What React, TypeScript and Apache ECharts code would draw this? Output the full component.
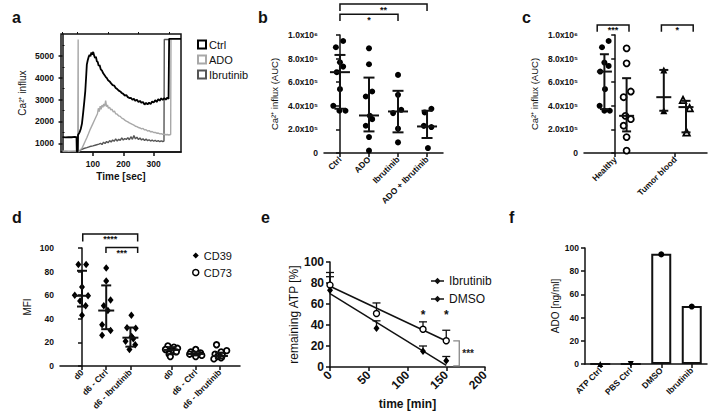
import React, { useEffect, useRef } from 'react';
import * as echarts from 'echarts';

const FONT = '"Liberation Sans", Arial, Helvetica, sans-serif';

// ---------- Panel a: Ca2+ influx kinetics ----------
const aLegend = ['Ctrl', 'ADO', 'Ibrutinib'];
const aXTicks = [100, 200, 300];
const aYTicks = [1000, 2000, 3000, 4000, 5000];
const aCtrl = [[0,1280],[10,1270],[20,1285],[30,1275],[40,1290],[46,1280],[47,620],[50,620],[51,1380],[56,1500],[60,1650],[64,1900],[68,2400],[72,2950],[75,3400],[78,4100],[80,4600],[83,4800],[86,4950],[89,5050],[92,4980],[95,5150],[98,5060],[101,5180],[104,5020],[107,4900],[110,4960],[113,4750],[116,4720],[119,4540],[122,4580],[126,4380],[130,4320],[134,4200],[138,4120],[142,4040],[146,3980],[150,3880],[155,3830],[160,3740],[165,3660],[170,3640],[175,3530],[180,3480],[185,3410],[190,3370],[195,3300],[200,3260],[205,3180],[210,3210],[215,3110],[220,3070],[225,3080],[230,2990],[235,3030],[240,2940],[245,2990],[250,2890],[255,2940],[260,2850],[265,2890],[270,2770],[275,2850],[280,2780],[285,2860],[290,2790],[295,2910],[300,2860],[305,2970],[310,2890],[315,3020],[320,2950],[325,3060],[330,2980],[335,3070],[340,2990],[345,3090],[349,3030],[351,5780],[390,5780]];
const aAdo = [[0,640],[10,650],[20,630],[30,640],[40,650],[50,640],[51,640],[51.5,5750],[52,620],[56,650],[60,720],[65,800],[70,950],[75,1100],[80,1250],[85,1420],[90,1600],[95,1750],[100,1900],[105,2050],[110,2200],[115,2350],[118,2600],[121,2450],[124,2700],[127,2550],[130,2750],[133,2650],[136,2800],[139,2700],[142,2950],[145,2680],[148,2750],[151,2600],[155,2650],[159,2520],[163,2560],[167,2430],[171,2470],[175,2350],[180,2330],[185,2250],[190,2230],[195,2150],[200,2120],[205,2060],[210,2010],[215,1980],[220,1930],[225,1900],[230,1860],[235,1830],[240,1780],[245,1760],[250,1720],[255,1700],[260,1660],[265,1680],[270,1610],[275,1620],[280,1560],[285,1580],[290,1520],[295,1540],[300,1490],[305,1500],[310,1460],[315,1470],[320,1430],[325,1440],[330,1410],[335,1420],[340,1390],[345,1400],[350,1380],[356,1400],[357,5750]];
const aIbr = [[0,610],[20,620],[40,615],[52,610],[55,620],[60,700],[70,760],[80,800],[90,850],[100,880],[110,920],[120,960],[125,1000],[130,940],[135,1050],[140,990],[145,1080],[150,1020],[155,1120],[160,1060],[165,1150],[170,1090],[175,1200],[180,1100],[185,1180],[190,1130],[195,1250],[200,1150],[205,1220],[210,1170],[215,1260],[220,1160],[225,1300],[230,1180],[235,1350],[240,1200],[245,1280],[250,1170],[255,1240],[260,1150],[265,1210],[270,1130],[275,1190],[280,1120],[285,1160],[290,1100],[295,1150],[300,1090],[305,1140],[310,1080],[315,1120],[320,1070],[325,1110],[330,1080],[334,1100],[335,5750],[352,5750]];

// ---------- Panel b: AUC by treatment ----------
const bCats = ['Ctrl', 'ADO', 'Ibrutinib', 'ADO + Ibrutinib'];
const bYLabels = ['0', '2.0x10⁵', '4.0x10⁵', '6.0x10⁵', '8.0x10⁵', '1.0x10⁶'];
const bCtrl = [949000, 896000, 769000, 732000, 685000, 541000, 400000, 358000, 358000];
const bCtrlJit = [0.11, -0.14, 0, 0.11, -0.11, 0, -0.23, -0.02, 0.19];
const bAdo = [887000, 752000, 521000, 479000, 315000, 287000, 231000, 135000, 20000];
const bAdoJit = [0, 0, 0.11, -0.11, 0.03, 0.11, -0.11, 0, 0];
const bIbr = [662000, 493000, 366000, 338000, 206000, 90000];
const bIbrJit = [0, 0, 0.11, -0.17, 0, 0];
const bCombo = [375000, 344000, 230000, 220000, 42000];
const bComboJit = [0.15, -0.08, -0.11, 0.15, 0.03];
const bMedian = [685000, 318000, 352000, 225000];
const bLow = [375000, 183000, 175000, 127000];
const bHigh = [831000, 639000, 527000, 358000];
const bSig = ['*', '**'];
const bSigFrom = [0, 0];
const bSigTo = [2, 3];
const bSigY = [1175000, 1262000];
const bSigDrop = [1118000, 1203000];

// ---------- Panel c: healthy vs tumor blood ----------
const cCats = ['Healthy', 'Tumor blood'];
const cHealthyFilled = [949000, 896000, 766000, 738000, 690000, 541000, 400000, 358000, 358000];
const cHealthyFilledJit = [0.07, -0.04, 0, 0.07, -0.07, 0.01, -0.08, 0, 0.09];
const cHealthyOpen = [887000, 760000, 521000, 473000, 315000, 287000, 231000, 135000, 20000];
const cHealthyOpenJit = [0, 0, 0.07, -0.05, -0.02, 0.07, -0.05, 0, 0];
const cTumorFilled = [704000, 358000];
const cTumorFilledJit = [0, 0];
const cTumorOpen = [450000, 380000, 175000];
const cTumorOpenJit = [-0.05, 0.06, 0.01];
const cMedian = [690000, 315000, 473000, 389000];
const cLow = [372000, 183000, 358000, 175000];
const cHigh = [837000, 634000, 704000, 442000];
const cSig = ['***', '*'];
const cSigFrom = [-0.3, 0.77];
const cSigTo = [0.23, 1.3];
const cSigY = [1085000, 1085000];
const cSigDrop = [1028000, 1028000];

// ---------- Panel d: CD39 / CD73 MFI ----------
const dCats = ['d0', 'd6 - Ctrl', 'd6 - Ibrutinib', 'd0', 'd6 - Ctrl', 'd6 - Ibrutinib'];
const dLegend = ['CD39', 'CD73'];
const dCD39 = [
  [86, 86, 67, 60, 59.5, 55, 51, 43],
  [83, 72, 56, 51, 47, 35, 30, 26],
  [43, 32.5, 32, 25, 23, 21, 18, 14],
];
const dCD39Jit = [
  [-0.15, 0.17, 0, -0.3, 0.25, -0.08, 0.15, 0],
  [0, 0, 0.18, -0.1, 0.07, -0.17, 0.18, -0.17],
  [0.04, -0.14, 0.22, 0.05, 0.12, -0.2, 0.2, -0.04],
];
const dCD73 = [
  [17, 16, 15, 14, 13, 12, 10, 8],
  [14, 12, 11, 10.5, 10, 10, 9, 8],
  [18, 13, 12, 10, 9, 8, 7, 6],
];
const dCD73Jit = [
  [-0.15, 0.1, 0.25, -0.25, 0, 0.2, -0.1, -0.05],
  [0, -0.2, 0.2, -0.1, 0.1, -0.25, 0.25, 0],
  [-0.14, 0.28, 0.05, -0.2, 0.1, -0.1, 0.05, -0.25],
];
const dMedian = [59.5, 47, 24, 13.6, 10.2, 8.5];
const dLow = [50.4, 31.2, 16.4, 10, 9, 6.5];
const dHigh = [80.7, 68.3, 32.6, 16, 12, 11.3];
const dSig = ['****', '***'];
const dSigFrom = [0.03, 0.99];
const dSigTo = [2.3, 2.3];
const dSigY = [111.9, 100.5];
const dSigDrop = [105.6, 95.8];

// ---------- Panel e: remaining ATP ----------
const eLegend = ['Ibrutinib', 'DMSO'];
const eTime = [0, 60, 120, 150];
const eIbr = [78, 51, 36, 25];
const eIbrErr = [90, 61, 43, 35];
const eDmso = [73, 37, 15, 6];
const eDmsoErr = [86, 44, 20, 10];
const eIbrFit = [[0, 76.9], [150, 24.8]];
const eDmsoFit = [[0, 69.9], [150, 1.6]];
const eStarTimes = [120, 150];
const eStarY = [50, 50];
const eSigLabel = '***';
const eSigX = 166.8;
const eSigTop = 24.8;
const eSigBottom = 1;
const eSigStub = 159;

// ---------- Panel f: ADO ----------
const fCats = ['ATP Ctrl', 'PBS Ctrl', 'DMSO', 'Ibrutinib'];
const fBars = [0, 0, 95, 50];
const fDots = [0, 0, 94.5, 49.5];

// ---------- positions (layout) ----------
const bPos = [0, 1, 2, 3];
const cPos = [-0.18, 0.19, 0.81, 1.18];
const cLabelPos = [0, 1];
const dPos = [0, 1, 2, 3.7, 4.7, 5.7];

const txt = (size: number, bold = true) => ({
  fontFamily: FONT,
  fontSize: size,
  fontWeight: bold ? 'bold' : 'normal',
  color: '#111',
});

const axLine = { show: true, lineStyle: { color: '#111', width: 1.5 } };
const axTick = (len = 4) => ({ show: true, length: len, lineStyle: { color: '#111', width: 1.5 } });

const pts = (center: number, vals: number[], jit: number[]) =>
  vals.map((v, i) => [center + jit[i], v]);

const medianRender = (half: number, cap: number) => (params: any, api: any) => {
  const x = api.value(0);
  const pm = api.coord([x, api.value(1)]);
  const pl = api.coord([x, api.value(2)]);
  const ph = api.coord([x, api.value(3)]);
  const st = { stroke: '#111', lineWidth: 2 };
  return {
    type: 'group',
    children: [
      { type: 'line', shape: { x1: pm[0] - half, y1: pm[1], x2: pm[0] + half, y2: pm[1] }, style: st },
      { type: 'line', shape: { x1: pl[0], y1: pl[1], x2: ph[0], y2: ph[1] }, style: st },
      { type: 'line', shape: { x1: pl[0] - cap, y1: pl[1], x2: pl[0] + cap, y2: pl[1] }, style: st },
      { type: 'line', shape: { x1: ph[0] - cap, y1: ph[1], x2: ph[0] + cap, y2: ph[1] }, style: st },
    ],
  };
};

const bracketRender = (labels: string[]) => (params: any, api: any) => {
  const x1 = api.value(0), x2 = api.value(1), y = api.value(2), yd = api.value(3);
  const a = api.coord([x1, y]);
  const b = api.coord([x2, y]);
  const ad = api.coord([x1, yd]);
  const bd = api.coord([x2, yd]);
  return {
    type: 'group',
    children: [
      {
        type: 'polyline',
        shape: { points: [[ad[0], ad[1]], [a[0], a[1]], [b[0], b[1]], [bd[0], bd[1]]] },
        style: { stroke: '#111', lineWidth: 1.5, fill: null },
      },
      {
        type: 'text',
        x: (a[0] + b[0]) / 2,
        y: a[1] + 1,
        style: {
          text: labels[params.dataIndex],
          fontFamily: FONT, fontSize: 9, fontWeight: 'bold', fill: '#111',
          align: 'center', verticalAlign: 'top',
        },
      },
    ],
  };
};

const summary = (pos: number[], med: number[], lo: number[], hi: number[]) =>
  pos.map((p, i) => [p, med[i], lo[i], hi[i]]);

const sig = (from: number[], to: number[], y: number[], drop: number[]) =>
  from.map((f, i) => [f, to[i], y[i], drop[i]]);

function buildOption(): any {
  const grids = [
    { left: 61, top: 34, width: 120, height: 118, show: true, borderColor: '#111', borderWidth: 1.5 },
    { left: 324, top: 35, width: 119, height: 118 },
    { left: 584, top: 35, width: 123, height: 118 },
    { left: 60, top: 248, width: 180, height: 118 },
    { left: 330, top: 262, width: 155, height: 105 },
    { left: 585, top: 248, width: 122, height: 116 },
  ].map((g) => ({ containLabel: false, outerBoundsMode: 'none', backgroundColor: 'transparent', ...g }));

  const hiddenLine = { show: false };
  const noSplit = { show: false };

  const xAxis: any[] = [
    {
      type: 'value', gridIndex: 0, min: -5, max: 390,
      axisLine: axLine, splitLine: noSplit,
      axisTick: { ...axTick(4), customValues: aXTicks },
      axisLabel: { ...txt(8.5), margin: 7, customValues: aXTicks, formatter: (v: number) => String(v) },
      name: 'Time [sec]', nameLocation: 'middle', nameGap: 19, nameTextStyle: txt(10),
    },
    {
      type: 'value', gridIndex: 0, min: -5, max: 390,
      axisLine: hiddenLine, splitLine: noSplit, axisLabel: { show: false },
      axisTick: { show: true, length: 2, lineStyle: { color: '#111', width: 1 }, customValues: [0, 50, 150, 250, 350] },
    },
    {
      type: 'value', gridIndex: 1, min: -0.55, max: 3.55,
      axisLine: axLine, splitLine: noSplit,
      axisTick: { ...axTick(4), customValues: bPos },
      axisLabel: {
        ...txt(8.5), rotate: 45, margin: 5, customValues: bPos,
        formatter: (v: number) => bCats[bPos.indexOf(v)] ?? '',
      },
    },
    {
      type: 'value', gridIndex: 2, min: -0.52, max: 1.53,
      axisLine: axLine, splitLine: noSplit,
      axisTick: { ...axTick(4), customValues: cLabelPos },
      axisLabel: {
        ...txt(8.5), rotate: 45, margin: 5, customValues: cLabelPos,
        formatter: (v: number) => cCats[cLabelPos.indexOf(v)] ?? '',
      },
    },
    {
      type: 'value', gridIndex: 3, min: -0.91, max: 6.53,
      axisLine: axLine, splitLine: noSplit,
      axisTick: { ...axTick(4), customValues: dPos },
      axisLabel: {
        ...txt(8.5), rotate: 45, margin: 5, customValues: dPos,
        formatter: (v: number) => dCats[dPos.indexOf(v)] ?? '',
      },
    },
    {
      type: 'value', gridIndex: 4, min: 0, max: 200, interval: 50,
      axisLine: axLine, splitLine: noSplit, axisTick: axTick(4),
      axisLabel: { ...txt(12), rotate: 45, margin: 6 },
      name: 'time [min]', nameLocation: 'middle', nameGap: 31, nameTextStyle: txt(12),
    },
    {
      type: 'category', gridIndex: 5, data: fCats,
      axisLine: axLine, splitLine: noSplit,
      axisTick: { ...axTick(4), alignWithLabel: true },
      axisLabel: { ...txt(8.5), rotate: 45, margin: 5, interval: 0 },
    },
  ];

  const yAxis: any[] = [
    {
      type: 'value', gridIndex: 0, min: 600, max: 6000,
      axisLine: axLine, splitLine: noSplit,
      axisTick: { ...axTick(4), customValues: aYTicks },
      axisLabel: { ...txt(8.5), margin: 7, customValues: aYTicks, formatter: (v: number) => String(v) },
      name: 'Ca²⁺ influx', nameLocation: 'middle', nameRotate: 90, nameGap: 34, nameTextStyle: txt(10, false),
    },
    {
      type: 'value', gridIndex: 0, min: 600, max: 6000,
      axisLine: hiddenLine, splitLine: noSplit, axisLabel: { show: false },
      axisTick: { show: true, length: 2, lineStyle: { color: '#111', width: 1 }, customValues: [1500, 2500, 3500, 4500, 5500] },
    },
    {
      type: 'value', gridIndex: 1, min: 0, max: 1000000, interval: 200000,
      axisLine: axLine, splitLine: noSplit, axisTick: axTick(4),
      axisLabel: { ...txt(8.5), margin: 6, formatter: (v: number) => bYLabels[Math.round(v / 200000)] },
      name: 'Ca²⁺ influx (AUC)', nameLocation: 'middle', nameRotate: 90, nameGap: 45, nameTextStyle: txt(9.5, false),
    },
    {
      type: 'value', gridIndex: 2, min: 0, max: 1000000, interval: 200000,
      axisLine: axLine, splitLine: noSplit, axisTick: axTick(4),
      axisLabel: { ...txt(8.5), margin: 6, formatter: (v: number) => bYLabels[Math.round(v / 200000)] },
      name: 'Ca²⁺ influx (AUC)', nameLocation: 'middle', nameRotate: 90, nameGap: 45, nameTextStyle: txt(9.5, false),
    },
    {
      type: 'value', gridIndex: 3, min: 0, max: 100, interval: 20,
      axisLine: axLine, splitLine: noSplit, axisTick: axTick(4),
      axisLabel: { ...txt(8.5), margin: 6 },
      name: 'MFI', nameLocation: 'middle', nameRotate: 90, nameGap: 28, nameTextStyle: txt(10, false),
    },
    {
      type: 'value', gridIndex: 4, min: 0, max: 100, interval: 20,
      axisLine: axLine, splitLine: noSplit, axisTick: axTick(4),
      axisLabel: { ...txt(12), margin: 6 },
      name: 'remaining ATP [%]', nameLocation: 'middle', nameRotate: 90, nameGap: 28, nameTextStyle: txt(12, false),
    },
    {
      type: 'value', gridIndex: 5, min: 0, max: 100, interval: 20,
      axisLine: axLine, splitLine: noSplit, axisTick: axTick(4),
      axisLabel: { ...txt(8.5), margin: 6 },
      name: 'ADO [ng/ml]', nameLocation: 'middle', nameRotate: 90, nameGap: 20, nameTextStyle: txt(10, false),
    },
  ];

  const filled = (size: number) => ({ symbol: 'circle', symbolSize: size, itemStyle: { color: '#000', opacity: 1 } });
  const open = (size: number, symbol = 'circle') => ({
    symbol, symbolSize: size, itemStyle: { color: '#fff', borderColor: '#000', borderWidth: 1.8, opacity: 1 },
  });

  const series: any[] = [
    // ---- a ----
    { type: 'line', name: 'Ibrutinib', xAxisIndex: 0, yAxisIndex: 0, data: aIbr, symbol: 'none',
      lineStyle: { color: '#555', width: 1.4 }, itemStyle: { color: '#555' } },
    { type: 'line', name: 'ADO', xAxisIndex: 0, yAxisIndex: 0, data: aAdo, symbol: 'none',
      lineStyle: { color: '#a8a8a8', width: 1.4 }, itemStyle: { color: '#a8a8a8' } },
    { type: 'line', name: 'Ctrl', xAxisIndex: 0, yAxisIndex: 0, data: aCtrl, symbol: 'none',
      lineStyle: { color: '#000', width: 1.8 }, itemStyle: { color: '#000' } },

    // ---- b ----
    { type: 'scatter', xAxisIndex: 2, yAxisIndex: 2, data: pts(bPos[0], bCtrl, bCtrlJit), ...filled(6), z: 2 },
    { type: 'scatter', xAxisIndex: 2, yAxisIndex: 2, data: pts(bPos[1], bAdo, bAdoJit), ...filled(6), z: 2 },
    { type: 'scatter', xAxisIndex: 2, yAxisIndex: 2, data: pts(bPos[2], bIbr, bIbrJit), ...filled(6), z: 2 },
    { type: 'scatter', xAxisIndex: 2, yAxisIndex: 2, data: pts(bPos[3], bCombo, bComboJit), ...filled(6), z: 2 },
    { type: 'custom', xAxisIndex: 2, yAxisIndex: 2, renderItem: medianRender(10, 5.5), clip: false, z: 3,
      encode: { x: 0, y: [1, 2, 3] }, data: summary(bPos, bMedian, bLow, bHigh) },
    { type: 'custom', xAxisIndex: 2, yAxisIndex: 2, renderItem: bracketRender(bSig), clip: false, z: 3,
      encode: { x: [0, 1], y: [2, 3] }, data: sig(bSigFrom, bSigTo, bSigY, bSigDrop) },

    // ---- c ----
    { type: 'scatter', xAxisIndex: 3, yAxisIndex: 3, data: pts(cPos[0], cHealthyFilled, cHealthyFilledJit), ...filled(6), z: 2 },
    { type: 'scatter', xAxisIndex: 3, yAxisIndex: 3, data: pts(cPos[1], cHealthyOpen, cHealthyOpenJit), ...open(6), z: 2 },
    { type: 'scatter', xAxisIndex: 3, yAxisIndex: 3, data: pts(cPos[2], cTumorFilled, cTumorFilledJit),
      symbol: 'triangle', symbolSize: 7, itemStyle: { color: '#000', opacity: 1 }, z: 2 },
    { type: 'scatter', xAxisIndex: 3, yAxisIndex: 3, data: pts(cPos[3], cTumorOpen, cTumorOpenJit), ...open(6.5, 'triangle'), z: 2 },
    { type: 'custom', xAxisIndex: 3, yAxisIndex: 3, renderItem: medianRender(7.5, 4.5), clip: false, z: 3,
      encode: { x: 0, y: [1, 2, 3] }, data: summary(cPos, cMedian, cLow, cHigh) },
    { type: 'custom', xAxisIndex: 3, yAxisIndex: 3, renderItem: bracketRender(cSig), clip: false, z: 3,
      encode: { x: [0, 1], y: [2, 3] }, data: sig(cSigFrom, cSigTo, cSigY, cSigDrop) },

    // ---- d ----
    ...dCD39.map((vals, g) => ({
      type: 'scatter', name: 'CD39', xAxisIndex: 4, yAxisIndex: 4, data: pts(dPos[g], vals, dCD39Jit[g]),
      symbol: 'diamond', symbolSize: [6, 7.5], itemStyle: { color: '#000', opacity: 1 }, z: 2,
    })),
    ...dCD73.map((vals, g) => ({
      type: 'scatter', name: 'CD73', xAxisIndex: 4, yAxisIndex: 4, data: pts(dPos[g + 3], vals, dCD73Jit[g]),
      ...open(5.5), z: 2,
    })),
    { type: 'custom', xAxisIndex: 4, yAxisIndex: 4, renderItem: medianRender(8, 5), clip: false, z: 3,
      encode: { x: 0, y: [1, 2, 3] }, data: summary(dPos, dMedian, dLow, dHigh) },
    { type: 'custom', xAxisIndex: 4, yAxisIndex: 4, renderItem: bracketRender(dSig), clip: false, z: 3,
      encode: { x: [0, 1], y: [2, 3] }, data: sig(dSigFrom, dSigTo, dSigY, dSigDrop) },

    // ---- e ----
    {
      type: 'custom', xAxisIndex: 5, yAxisIndex: 5, clip: false, z: 1,
      encode: { x: 0, y: [1, 2] },
      data: [...eTime.map((t, i) => [t, eIbr[i], eIbrErr[i]]), ...eTime.map((t, i) => [t, eDmso[i], eDmsoErr[i]])],
      renderItem: (params: any, api: any) => {
        const p = api.coord([api.value(0), api.value(1)]);
        const h = api.coord([api.value(0), api.value(2)]);
        const st = { stroke: '#111', lineWidth: 1.3 };
        return {
          type: 'group',
          children: [
            { type: 'line', shape: { x1: p[0], y1: p[1], x2: h[0], y2: h[1] }, style: st },
            { type: 'line', shape: { x1: h[0] - 4, y1: h[1], x2: h[0] + 4, y2: h[1] }, style: st },
          ],
        };
      },
    },
    { type: 'line', name: 'e-Ibrutinib', xAxisIndex: 5, yAxisIndex: 5, data: eIbrFit, symbol: 'none',
      lineStyle: { color: '#111', width: 1.5 }, itemStyle: { color: '#111' }, z: 2 },
    { type: 'line', name: 'e-DMSO', xAxisIndex: 5, yAxisIndex: 5, data: eDmsoFit, symbol: 'none',
      lineStyle: { color: '#111', width: 1.5 }, itemStyle: { color: '#111' }, z: 2 },
    { type: 'scatter', xAxisIndex: 5, yAxisIndex: 5, data: eTime.map((t, i) => [t, eIbr[i]]),
      symbol: 'circle', symbolSize: 6, itemStyle: { color: '#fff', borderColor: '#000', borderWidth: 1.4, opacity: 1 }, z: 3 },
    { type: 'scatter', xAxisIndex: 5, yAxisIndex: 5, data: eTime.map((t, i) => [t, eDmso[i]]),
      symbol: 'diamond', symbolSize: [6, 7.5], itemStyle: { color: '#000', opacity: 1 }, z: 3 },
    {
      type: 'custom', xAxisIndex: 5, yAxisIndex: 5, clip: false, z: 3,
      encode: { x: 0, y: 1 },
      data: eStarTimes.map((t, i) => [t, eStarY[i]]),
      renderItem: (params: any, api: any) => {
        const p = api.coord([api.value(0), api.value(1)]);
        return {
          type: 'text', x: p[0], y: p[1],
          style: { text: '*', fontFamily: FONT, fontSize: 12, fontWeight: 'bold', fill: '#111', align: 'center', verticalAlign: 'middle' },
        };
      },
    },
    {
      type: 'custom', xAxisIndex: 5, yAxisIndex: 5, clip: false, z: 3,
      encode: { x: [0, 3], y: [1, 2] },
      data: [[eSigX, eSigTop, eSigBottom, eSigStub]],
      renderItem: (params: any, api: any) => {
        const t = api.coord([api.value(0), api.value(1)]);
        const b = api.coord([api.value(0), api.value(2)]);
        const ts = api.coord([api.value(3), api.value(1)]);
        const bs = api.coord([api.value(3), api.value(2)]);
        return {
          type: 'group',
          children: [
            { type: 'polyline', shape: { points: [[ts[0], ts[1]], [t[0], t[1]], [b[0], b[1]], [bs[0], bs[1]]] },
              style: { stroke: '#888', lineWidth: 1.3, fill: null } },
            { type: 'text', x: t[0] + 3, y: (t[1] + b[1]) / 2,
              style: { text: eSigLabel, fontFamily: FONT, fontSize: 10, fontWeight: 'bold', fill: '#222', align: 'left', verticalAlign: 'middle' } },
          ],
        };
      },
    },

    // ---- f ----
    { type: 'bar', xAxisIndex: 6, yAxisIndex: 6, data: fBars, barWidth: 20,
      itemStyle: { color: '#fff', borderColor: '#111', borderWidth: 2 }, z: 2 },
    { type: 'scatter', xAxisIndex: 6, yAxisIndex: 6, z: 3,
      data: fDots.map((v, i) => ({
        value: v,
        symbol: i < 2 ? 'triangle' : 'circle',
        symbolRotate: i === 1 ? 180 : 0,
      })),
      symbolSize: 6, itemStyle: { color: '#000', opacity: 1 } },
  ];

  const letter = (t: string, x: number, y: number) => ({
    type: 'text', left: x, top: y,
    style: { text: t, fontFamily: FONT, fontSize: 16, fontWeight: 'bold', fill: '#111' },
  });

  return {
    animation: false,
    backgroundColor: '#fff',
    textStyle: { fontFamily: FONT },
    grid: grids,
    xAxis,
    yAxis,
    series,
    legend: [
      {
        left: 192, top: 34, orient: 'vertical', itemWidth: 8, itemHeight: 8, itemGap: 4, selectedMode: false,
        textStyle: { ...txt(11, false), padding: [0, 0, 0, -2] },
        data: aLegend.map((n, i) => ({
          name: n, icon: 'rect',
          itemStyle: { color: '#fff', borderColor: ['#000', '#a8a8a8', '#555'][i], borderWidth: 2 },
        })),
      },
      {
        left: 187, top: 245, orient: 'vertical', itemWidth: 6, itemHeight: 6, itemGap: 6, selectedMode: false,
        textStyle: txt(11, false),
        data: [
          { name: dLegend[0], icon: 'diamond', itemStyle: { color: '#000', opacity: 1 } },
          { name: dLegend[1], icon: 'circle', itemStyle: { color: '#fff', borderColor: '#000', borderWidth: 1.5, opacity: 1 } },
        ],
      },
      {
        left: 426, top: 270, orient: 'vertical', itemWidth: 13, itemHeight: 7, itemGap: 6, selectedMode: false,
        textStyle: txt(12, false),
        formatter: (n: string) => n.replace(/^e-/, ''),
        data: eLegend.map((n) => ({
          name: 'e-' + n,
          icon: 'path://M0,4.3H14V5.7H0Z M7,1.5L10.5,5L7,8.5L3.5,5Z',
          itemStyle: { color: '#111' },
        })),
      },
    ],
    graphic: [
      letter('a', 12, 9),
      letter('b', 258, 9),
      letter('c', 522, 9),
      letter('d', 12, 209),
      letter('e', 261, 209),
      letter('f', 509, 209),
    ],
  };
}

export default function App() {
  const ref = useRef<HTMLDivElement>(null);
  useEffect(() => {
    document.body.style.margin = '0';
    if (!ref.current) return;
    const chart = echarts.init(ref.current, undefined, { renderer: 'svg' });
    chart.setOption(buildOption());
    return () => chart.dispose();
  }, []);
  return <div ref={ref} style={{ width: 708, height: 412 }} />;
}
